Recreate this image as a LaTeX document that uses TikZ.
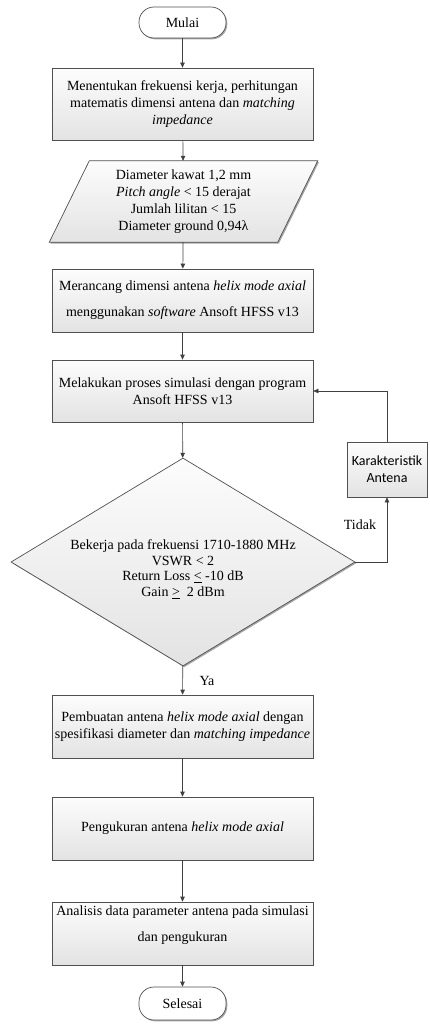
\documentclass[tikz,border=0pt]{standalone}
\usepackage{fontspec}
\setmainfont{Liberation Serif}
\newfontfamily\calibri{Carlito}
\usetikzlibrary{arrows.meta,shapes.geometric,shadows}
\definecolor{edgec}{HTML}{505050}
\definecolor{lnkc}{HTML}{404040}
\tikzset{
  txt/.style={align=center, inner sep=0pt, font=\fontsize{14}{17}\selectfont},
  shd/.style={drop shadow={shadow xshift=1.3pt, shadow yshift=-1.3pt, fill=black!50, opacity=0.7}},
  shadefill/.style={top color=white!99!black, bottom color=white!89!black},
  procbox/.style={rectangle, draw=edgec, line width=0.7pt, shadefill, shd, txt, minimum width=261pt},
  termbox/.style={rectangle, draw=edgec, line width=0.7pt, fill=white, shd, txt, rounded corners=15pt, minimum width=87pt},
  dia/.style={diamond, draw=edgec, line width=0.7pt, shadefill, shd, inner sep=0pt, minimum width=344pt, minimum height=208pt},
  parashape/.style={draw=edgec, line width=0.7pt, shadefill, shd},
  arr/.style={draw=lnkc, line width=0.7pt, -{Triangle[length=5pt,width=4.5pt]}},
  lbl/.style={inner sep=0pt, font=\fontsize{14}{17}\selectfont},
}
\begin{document}
\begin{tikzpicture}[x=1pt,y=-1pt]
\useasboundingbox (0,0) rectangle (430,1030);

\node[termbox, minimum height=31pt] (mulai) at (182.5,22.5) {Mulai};

\node[procbox, minimum height=72pt] (b1) at (182.5,104) {Menentukan frekuensi kerja, perhitungan\\matematis dimensi antena dan \textit{matching}\\\textit{impedance}};

\node[txt, minimum width=228pt, minimum height=81pt] (para) at (183.5,201.5) {};
\path[parashape] ([xshift=20pt]para.north west) -- ([xshift=20pt]para.north east) -- ([xshift=-20pt]para.south east) -- ([xshift=-20pt]para.south west) -- cycle;
\node[txt] (paratext) at (para.center) {Diameter kawat 1,2 mm\\\textit{Pitch angle} < 15 derajat\\Jumlah lilitan < 15\\Diameter ground 0,94λ};

\node[procbox, minimum height=63pt] (b3) at (182.5,300.5) {Merancang dimensi antena \textit{helix mode axial}\\[9pt]menggunakan \textit{software} Ansoft HFSS v13};

\node[procbox, minimum height=62pt] (b4) at (182.5,391) {Melakukan proses simulasi dengan program\\Ansoft HFSS v13};

\node[dia] (dec) at (183,562) {};
\node[txt, font=\fontsize{14}{15.8}\selectfont] (dectext) at (183,569) {Bekerja pada frekuensi 1710-1880 MHz\\VSWR < 2\\Return Loss \underline{<} -10 dB\\Gain \underline{>}\ \ 2 dBm};

\node[rectangle, draw=edgec, line width=0.7pt, shadefill, shd, align=center, inner sep=0pt, minimum width=80pt, minimum height=55pt, font=\calibri\fontsize{14}{17}\selectfont] (kar) at (387,469.5) {Karakteristik\\Antena};

\node[procbox, minimum height=63pt] (b5) at (182.5,726.5) {Pembuatan antena \textit{helix mode axial} dengan\\spesifikasi diameter dan \textit{matching impedance}};

\node[procbox, minimum height=63pt] (b6) at (182.5,828.5) {\raisebox{-2pt}{Pengukuran antena \textit{helix mode axial}}};

\node[procbox, minimum height=63pt] (b7) at (182.5,933.5) {};
\node[txt] (b7text) at (182.5,925.5) {Analisis data parameter antena pada simulasi\\[9pt]dan pengukuran};

\node[termbox, minimum height=33pt] (selesai) at (182.5,1003.5) {Selesai};

\draw[arr] (mulai) -- (b1);
\draw[arr] (b1) -- (para);
\draw[arr] (para) -- (b3);
\draw[arr] (b3) -- (b4);
\draw[arr] (b4) -- (dec);
\draw[arr] (dec) -- (b5);
\draw[arr] (b5) -- (b6);
\draw[arr] (b6) -- (b7);
\draw[arr] (b7) -- (selesai);
\draw[arr] (dec.east) -| (kar.south);
\draw[arr] (kar.north) |- (b4.east);

\node[lbl] (tidak) at (360,525) {Tidak};
\node[lbl] (ya) at (207,681) {Ya};
\end{tikzpicture}
\end{document}
